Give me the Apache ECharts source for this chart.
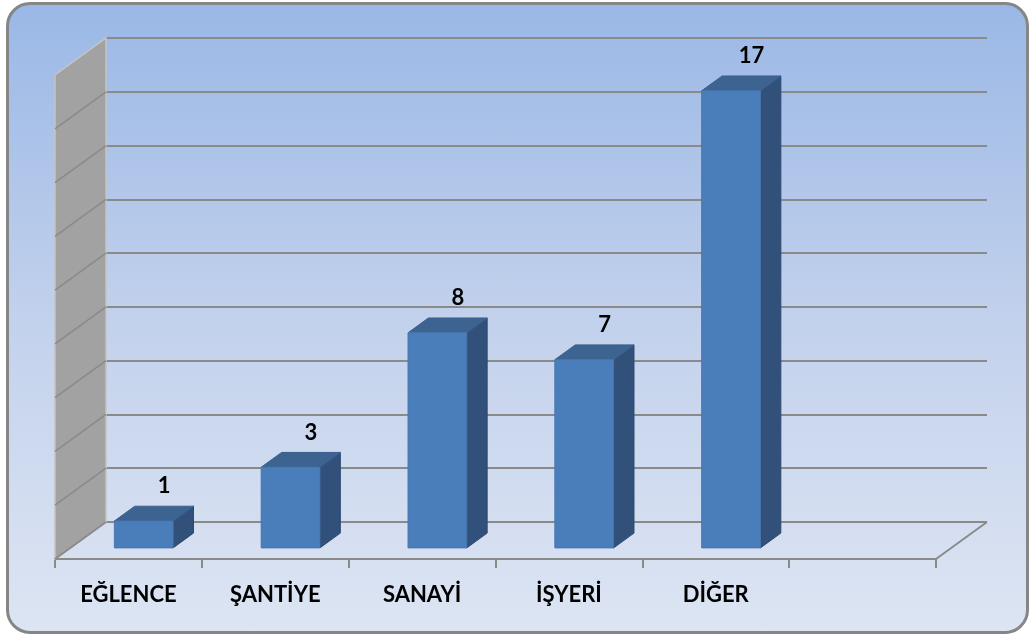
<!DOCTYPE html>
<html>
<head>
<meta charset="utf-8">
<script src="https://cdn.jsdelivr.net/npm/echarts@6/dist/echarts.min.js"></script>
<style>
  html, body { margin: 0; padding: 0; background: #ffffff; }
  #frame {
    position: absolute; left: 6px; top: 2px; width: 1017px; height: 626px;
    border: 3px solid #868686; border-radius: 24px;
    background: linear-gradient(to bottom, #9ab8e6 0%, #c2d1ec 50%, #dde5f3 100%);
  }
  #chart { position: absolute; left: 0; top: 0; width: 1029px; height: 634px; }
</style>
</head>
<body>
<div id="frame"></div>
<div id="chart"></div>
<script>
var categories = ['EĞLENCE', 'ŞANTİYE', 'SANAYİ', 'İŞYERİ', 'DİĞER', ''];
var values = [1, 3, 8, 7, 17];
var yMin = 0, yMax = 18, yStep = 2;

// depth offset of the 3d box (front plane is DX left, DY down from the back wall)
var DX = 51, DY = 37;
var D0 = 0.3, D1 = 0.7; // bar front / back depth (0 = front, 1 = back)

function pt(x, y, d) {
    return [x - DX * (1 - d), y + DY * (1 - d)];
}

function renderBar(params, api) {
    var i = api.value(0), v = api.value(1);
    var base = api.coord([i, 0]);
    var top = api.coord([i, v]);
    var bw = api.size([1, 0])[0] * 0.4;
    var xl = base[0] - bw / 2, xr = base[0] + bw / 2;
    var front = [pt(xl, top[1], D0), pt(xr, top[1], D0), pt(xr, base[1], D0), pt(xl, base[1], D0)];
    var topFace = [pt(xl, top[1], D0), pt(xl, top[1], D1), pt(xr, top[1], D1), pt(xr, top[1], D0)];
    var side = [pt(xr, top[1], D0), pt(xr, top[1], D1), pt(xr, base[1], D1), pt(xr, base[1], D0)];
    var lab = pt(base[0], top[1], D1);
    return {
        type: 'group',
        children: [
            { type: 'polygon', shape: { points: side }, style: { fill: '#31507a', stroke: '#2c4870', lineWidth: 1 } },
            { type: 'polygon', shape: { points: topFace }, style: { fill: '#3d6491', stroke: '#3a5f8c', lineWidth: 1 } },
            { type: 'polygon', shape: { points: front }, style: { fill: '#4a7ebb', stroke: '#4776b0', lineWidth: 1 } },
            {
                type: 'text',
                style: {
                    x: lab[0], y: lab[1] - 20, text: String(v),
                    fill: '#000', font: 'bold 22px Lato, "Open Sans", sans-serif',
                    align: 'center', verticalAlign: 'middle'
                }
            }
        ]
    };
}

function renderFrame(params, api) {
    var cs = params.coordSys;
    var x0 = cs.x, yT = cs.y, yB = cs.y + cs.height, xR = cs.x + cs.width;
    var kids = [{
        type: 'polygon',
        shape: { points: [[x0, yT], [x0, yB], [x0 - DX, yB + DY], [x0 - DX, yT + DY]] },
        style: { fill: '#a2a2a2', stroke: '#c4c4c4', lineWidth: 1.5 }
    }];
    for (var v = yMin + yStep; v < yMax; v += yStep) {
        var y = api.coord([0, v])[1];
        kids.push({
            type: 'line',
            shape: { x1: x0, y1: y, x2: x0 - DX, y2: y + DY },
            style: { stroke: '#8a8a8a', lineWidth: 1.5 }
        });
    }
    kids.push({
        type: 'line',
        shape: { x1: x0, y1: yB, x2: x0 - DX, y2: yB + DY },
        style: { stroke: '#8a8a8a', lineWidth: 2 }
    });
    kids.push({
        type: 'line',
        shape: { x1: xR, y1: yB, x2: xR - DX, y2: yB + DY },
        style: { stroke: '#8a8a8a', lineWidth: 2 }
    });
    return { type: 'group', children: kids };
}

var chart = echarts.init(document.getElementById('chart'));
var option = {
    backgroundColor: 'transparent',
    animation: false,
    grid: [
        // back wall
        { left: 106, right: 42, top: 38, bottom: 112 },
        // front plane (category axis)
        { left: 55, right: 93, top: 75, bottom: 75 }
    ],
    xAxis: [
        { gridIndex: 0, type: 'category', data: categories, show: false },
        {
            gridIndex: 1, type: 'category', data: categories,
            axisLine: { show: true, lineStyle: { color: '#8a8a8a', width: 2 } },
            axisTick: { show: true, interval: 0, length: 9, lineStyle: { color: '#8a8a8a', width: 2 } },
            axisLabel: {
                margin: 25, color: '#000', fontSize: 22, fontWeight: 'bold', interval: 0,
                fontFamily: 'Lato, "Open Sans", sans-serif'
            }
        }
    ],
    yAxis: [
        {
            gridIndex: 0, type: 'value', min: yMin, max: yMax, interval: yStep,
            axisLine: { show: false }, axisTick: { show: false }, axisLabel: { show: false },
            splitLine: { lineStyle: { color: '#8a8a8a', width: 2 } }
        },
        { gridIndex: 1, type: 'value', min: yMin, max: yMax, show: false, splitLine: { show: false } }
    ],
    series: [
        {
            type: 'custom', xAxisIndex: 0, yAxisIndex: 0,
            renderItem: renderFrame, data: [[0, 0]], z: 1, silent: true
        },
        {
            type: 'custom', xAxisIndex: 0, yAxisIndex: 0,
            renderItem: renderBar,
            data: values.map(function (v, i) { return [i, v]; }),
            z: 3
        }
    ]
};
chart.setOption(option);
</script>
</body>
</html>
